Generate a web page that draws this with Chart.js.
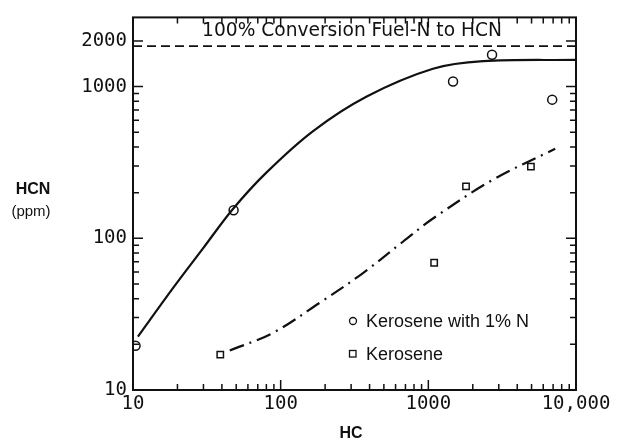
<!DOCTYPE html>
<html>
<head>
<meta charset="utf-8">
<script src="https://cdn.jsdelivr.net/npm/chart.js@4.4.1/dist/chart.umd.min.js"></script>
<style>
html,body{margin:0;padding:0;background:#fff;}
canvas{display:block;}
</style>
</head>
<body>
<canvas id="c" width="620" height="442"></canvas>
<script>
// ---- data ----
const xTickValues = [10, 100, 1000, 10000];
const xTickLabels = ['10', '100', '1000', '10,000'];
const yTickValues = [10, 100, 1000, 2000];
const yTickLabels = ['10', '100', '1000', '2000'];

const circleLabel = 'Kerosene with 1% N';
const circleHC  = [10.4, 48, 1470, 2700, 6900];
const circleHCN = [19.6, 153, 1080, 1620, 820];

const squareLabel = 'Kerosene';
const squareHC  = [39, 1095, 1800, 4950];
const squareHCN = [17.1, 69, 220, 297];

const solidFitHC  = [10.8, 18.7, 29.8, 47.5, 80, 165, 380, 1075, 2350, 10000];
const solidFitHCN = [22.5, 47.1, 85.8, 156, 271, 507, 857, 1310, 1470, 1500];

const dashFitHC  = [45.2, 88.7, 184, 361, 673, 1075, 2750, 7230];
const dashFitHCN = [18.2, 23.8, 37.6, 59, 94.9, 135, 244, 389];

const fullConvHC  = [10, 10000];
const fullConvHCN = [1850, 1850];
const fullConvLabel = '100% Conversion Fuel-N to HCN';

const xMin = 10, xMax = 10000, yMin = 10, yMax = 2858;
const xTitle = 'HC';
const yTitle1 = 'HCN', yTitle2 = '(ppm)';

const pts = (xs, ys) => xs.map((x, i) => ({x: x, y: ys[i]}));
const INK = '#111';

const overlay = {
  id: 'overlay',
  afterDraw(chart) {
    const ctx = chart.ctx;
    const a = chart.chartArea;
    const xs = chart.scales.x, ys = chart.scales.y;
    ctx.save();
    ctx.strokeStyle = INK;
    ctx.fillStyle = INK;
    // frame
    ctx.lineWidth = 2;
    ctx.strokeRect(a.left, a.top, a.right - a.left, a.bottom - a.top);
    // ticks
    ctx.lineWidth = 1.5;
    ctx.beginPath();
    for (let k = 1; k <= 4; k++) {
      for (let m = 1; m <= 9; m++) {
        const v = m * Math.pow(10, k);
        if (v < xMin || v > xMax) continue;
        const p = xs.getPixelForValue(v);
        const L = m === 1 ? 10 : 6;
        ctx.moveTo(p, a.bottom); ctx.lineTo(p, a.bottom - L);
        ctx.moveTo(p, a.top); ctx.lineTo(p, a.top + L);
      }
    }
    for (let k = 1; k <= 3; k++) {
      for (let m = 1; m <= 9; m++) {
        const v = m * Math.pow(10, k);
        if (v < yMin || v > yMax) continue;
        const p = ys.getPixelForValue(v);
        const L = (m === 1 || v === 2000) ? 10 : 6;
        ctx.moveTo(a.left, p); ctx.lineTo(a.left + L, p);
        ctx.moveTo(a.right, p); ctx.lineTo(a.right - L, p);
      }
    }
    ctx.stroke();

    // 100% label
    ctx.textAlign = 'center';
    ctx.textBaseline = 'middle';
    let fs = 16;
    ctx.font = fs + 'px "DejaVu Sans"';
    const w = ctx.measureText(fullConvLabel).width;
    fs = fs * 300 / w;
    ctx.font = fs.toFixed(2) + 'px "DejaVu Sans"';
    ctx.fillText(fullConvLabel, 352, 31);

    // axis titles
    ctx.font = 'bold 16px "Liberation Sans"';
    ctx.fillText(yTitle1, 33, 190);
    ctx.font = '15px "Liberation Sans"';
    ctx.fillText(yTitle2, 31, 212);
    ctx.font = 'bold 16px "Liberation Sans"';
    ctx.fillText(xTitle, 351, 434);

    // legend
    ctx.textAlign = 'left';
    ctx.font = '18px "Liberation Sans"';
    ctx.lineWidth = 1.3;
    ctx.beginPath();
    ctx.arc(353, 321, 3.5, 0, Math.PI * 2);
    ctx.stroke();
    ctx.fillText(circleLabel, 366, 322);
    ctx.strokeRect(349.5, 350.5, 6.5, 6.5);
    ctx.fillText(squareLabel, 366, 355);
    ctx.restore();
  }
};

new Chart(document.getElementById('c'), {
  type: 'scatter',
  data: {
    datasets: [
      {
        label: fullConvLabel,
        type: 'line',
        data: pts(fullConvHC, fullConvHCN),
        borderColor: INK, borderWidth: 1.8, borderDash: [9, 5],
        pointRadius: 0, fill: false
      },
      {
        label: 'fit1',
        type: 'line',
        data: pts(solidFitHC, solidFitHCN),
        borderColor: INK, borderWidth: 2.2,
        pointRadius: 0, fill: false,
        tension: 0.35
      },
      {
        label: 'fit2',
        type: 'line',
        data: pts(dashFitHC, dashFitHCN),
        borderColor: INK, borderWidth: 2.2, borderDash: [15, 6, 2, 6],
        pointRadius: 0, fill: false,
        tension: 0.35
      },
      {
        label: circleLabel,
        data: pts(circleHC, circleHCN),
        pointStyle: 'circle', pointRadius: 4.5,
        borderColor: INK, borderWidth: 1.5, backgroundColor: '#fff'
      },
      {
        label: squareLabel,
        data: pts(squareHC, squareHCN),
        pointStyle: 'rect', pointRadius: 4.5,
        borderColor: INK, borderWidth: 1.5, backgroundColor: '#fff'
      }
    ]
  },
  options: {
    responsive: false,
    animation: false,
    layout: {padding: {left: 0, right: 44, top: 13, bottom: 0}},
    plugins: {legend: {display: false}, tooltip: {enabled: false}},
    scales: {
      x: {
        type: 'logarithmic', min: xMin, max: xMax,
        grid: {display: false, drawTicks: false},
        border: {display: false},
        afterBuildTicks: s => { s.ticks = xTickValues.map(v => ({value: v})); },
        afterFit: s => { s.height = 52; },
        ticks: {
          autoSkip: false, maxRotation: 0, padding: 3, color: INK,
          font: {family: '"DejaVu Sans Mono"', size: 19},
          callback: (v) => { const i = xTickValues.indexOf(v); return i >= 0 ? xTickLabels[i] : ''; }
        }
      },
      y: {
        type: 'logarithmic', min: yMin, max: yMax,
        grid: {display: false, drawTicks: false},
        border: {display: false},
        afterBuildTicks: s => { s.ticks = yTickValues.map(v => ({value: v})); },
        afterFit: s => { s.width = 133; },
        ticks: {
          autoSkip: false, padding: 6, color: INK,
          font: {family: '"DejaVu Sans Mono"', size: 19},
          callback: (v) => { const i = yTickValues.indexOf(v); return i >= 0 ? yTickLabels[i] : ''; }
        }
      }
    }
  },
  plugins: [overlay]
});
</script>
</body>
</html>
